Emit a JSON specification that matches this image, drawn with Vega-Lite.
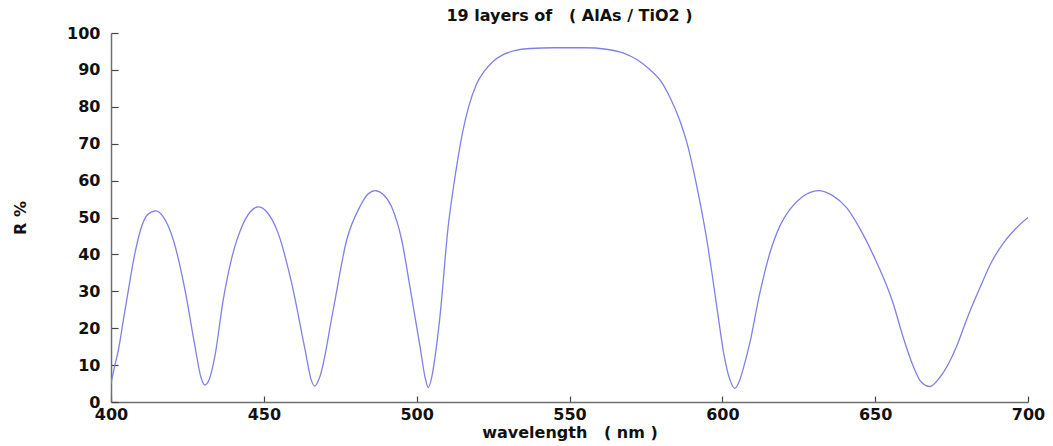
{
  "$schema": "https://vega.github.io/schema/vega-lite/v6.json",
  "autosize": "none",
  "width": 917,
  "height": 369,
  "padding": {"left": 111, "top": 33, "right": 25, "bottom": 44},
  "background": "white",
  "title": {
    "text": "19 layers of \u00a0\u00a0( AlAs / TiO2 )",
    "font": "DejaVu Sans",
    "fontSize": 16,
    "fontWeight": "bold",
    "color": "#111111",
    "offset": 1,
    "anchor": "middle"
  },
  "config": {
    "view": {"stroke": null},
    "axis": {
      "labelFont": "DejaVu Sans",
      "labelFontSize": 16,
      "labelFontWeight": "bold",
      "labelColor": "#111111",
      "titleFont": "DejaVu Sans",
      "titleFontSize": 16,
      "titleFontWeight": "bold",
      "titleColor": "#111111",
      "domainColor": "#6e6e6e",
      "domainWidth": 1.5,
      "tickColor": "#444444",
      "tickWidth": 1.2,
      "grid": false
    }
  },
  "data": {
    "values": [
      {"wavelength": 400, "R": 5},
      {"wavelength": 401, "R": 9},
      {"wavelength": 402.4, "R": 14},
      {"wavelength": 404, "R": 22},
      {"wavelength": 405.7, "R": 30.4},
      {"wavelength": 407.6, "R": 39.4},
      {"wavelength": 410, "R": 47.5},
      {"wavelength": 412, "R": 50.8},
      {"wavelength": 414.6, "R": 51.8},
      {"wavelength": 417, "R": 50.3},
      {"wavelength": 420.4, "R": 43.9},
      {"wavelength": 424.2, "R": 30.4},
      {"wavelength": 427.3, "R": 15.9},
      {"wavelength": 429.5, "R": 6.5},
      {"wavelength": 430.7, "R": 4.6},
      {"wavelength": 432, "R": 5.8},
      {"wavelength": 434, "R": 12.5},
      {"wavelength": 436.7, "R": 27.6},
      {"wavelength": 439.5, "R": 39},
      {"wavelength": 442.8, "R": 47.5},
      {"wavelength": 445.5, "R": 51.5},
      {"wavelength": 448.2, "R": 52.9},
      {"wavelength": 451, "R": 51.5},
      {"wavelength": 454.7, "R": 45.7},
      {"wavelength": 459.1, "R": 32.2},
      {"wavelength": 463.5, "R": 14.1},
      {"wavelength": 465.5, "R": 6},
      {"wavelength": 466.7, "R": 4.3},
      {"wavelength": 468.4, "R": 7},
      {"wavelength": 472.7, "R": 25},
      {"wavelength": 477.1, "R": 43.9},
      {"wavelength": 481.4, "R": 52.9},
      {"wavelength": 484, "R": 56.3},
      {"wavelength": 486.4, "R": 57.3},
      {"wavelength": 489, "R": 56.3},
      {"wavelength": 491.8, "R": 52.9},
      {"wavelength": 495.1, "R": 43.9},
      {"wavelength": 497.8, "R": 31.2},
      {"wavelength": 501.1, "R": 15},
      {"wavelength": 502.8, "R": 6.5},
      {"wavelength": 503.8, "R": 3.9},
      {"wavelength": 505, "R": 7},
      {"wavelength": 506.3, "R": 14},
      {"wavelength": 507.6, "R": 23},
      {"wavelength": 510.3, "R": 47.5},
      {"wavelength": 512, "R": 58},
      {"wavelength": 513.5, "R": 66},
      {"wavelength": 515, "R": 73},
      {"wavelength": 517, "R": 80},
      {"wavelength": 519.5, "R": 86},
      {"wavelength": 522, "R": 89.5},
      {"wavelength": 525, "R": 92.3},
      {"wavelength": 528, "R": 94},
      {"wavelength": 532, "R": 95.2},
      {"wavelength": 537, "R": 95.8},
      {"wavelength": 545, "R": 96},
      {"wavelength": 555, "R": 96},
      {"wavelength": 562, "R": 95.6},
      {"wavelength": 567.5, "R": 94.6},
      {"wavelength": 572, "R": 92.8},
      {"wavelength": 576, "R": 90.3},
      {"wavelength": 580, "R": 86.8},
      {"wavelength": 583, "R": 82.3},
      {"wavelength": 586, "R": 76.5},
      {"wavelength": 588.5, "R": 70},
      {"wavelength": 590.5, "R": 63},
      {"wavelength": 592.5, "R": 55},
      {"wavelength": 594.5, "R": 46},
      {"wavelength": 596.5, "R": 35.5},
      {"wavelength": 598.5, "R": 24},
      {"wavelength": 600.5, "R": 13},
      {"wavelength": 602.5, "R": 6},
      {"wavelength": 604.1, "R": 3.7},
      {"wavelength": 605.5, "R": 5.5},
      {"wavelength": 607, "R": 9.5},
      {"wavelength": 609, "R": 16},
      {"wavelength": 612, "R": 28.5},
      {"wavelength": 615.6, "R": 40.5},
      {"wavelength": 619, "R": 48},
      {"wavelength": 622.1, "R": 52.2},
      {"wavelength": 626, "R": 55.5},
      {"wavelength": 631.4, "R": 57.3},
      {"wavelength": 636, "R": 56},
      {"wavelength": 640.7, "R": 52.6},
      {"wavelength": 645, "R": 47},
      {"wavelength": 649.4, "R": 39.8},
      {"wavelength": 655.9, "R": 26.7},
      {"wavelength": 659, "R": 18},
      {"wavelength": 662.5, "R": 9.6},
      {"wavelength": 665, "R": 5.5},
      {"wavelength": 667.9, "R": 4.2},
      {"wavelength": 671, "R": 6.5},
      {"wavelength": 676.6, "R": 15},
      {"wavelength": 680, "R": 22.5},
      {"wavelength": 684.3, "R": 31},
      {"wavelength": 688, "R": 37.8},
      {"wavelength": 691.9, "R": 43},
      {"wavelength": 696, "R": 47},
      {"wavelength": 700, "R": 50}
    ]
  },
  "mark": {"type": "line", "color": "#8080e6", "strokeWidth": 1.3, "interpolate": "monotone", "clip": true},
  "encoding": {
    "x": {
      "field": "wavelength",
      "type": "quantitative",
      "scale": {"domain": [400, 700], "nice": false, "zero": false},
      "axis": {
        "title": "wavelength \u00a0\u00a0( nm )",
        "values": [400, 450, 500, 550, 600, 650, 700],
        "tickSize": -6,
        "labelPadding": 10,
        "titlePadding": 2,
        "labelFlush": false
      }
    },
    "y": {
      "field": "R",
      "type": "quantitative",
      "scale": {"domain": [0, 100], "nice": false},
      "axis": {
        "title": "R %",
        "values": [0, 10, 20, 30, 40, 50, 60, 70, 80, 90, 100],
        "tickSize": -7,
        "labelPadding": 18,
        "titlePadding": 38
      }
    }
  }
}
